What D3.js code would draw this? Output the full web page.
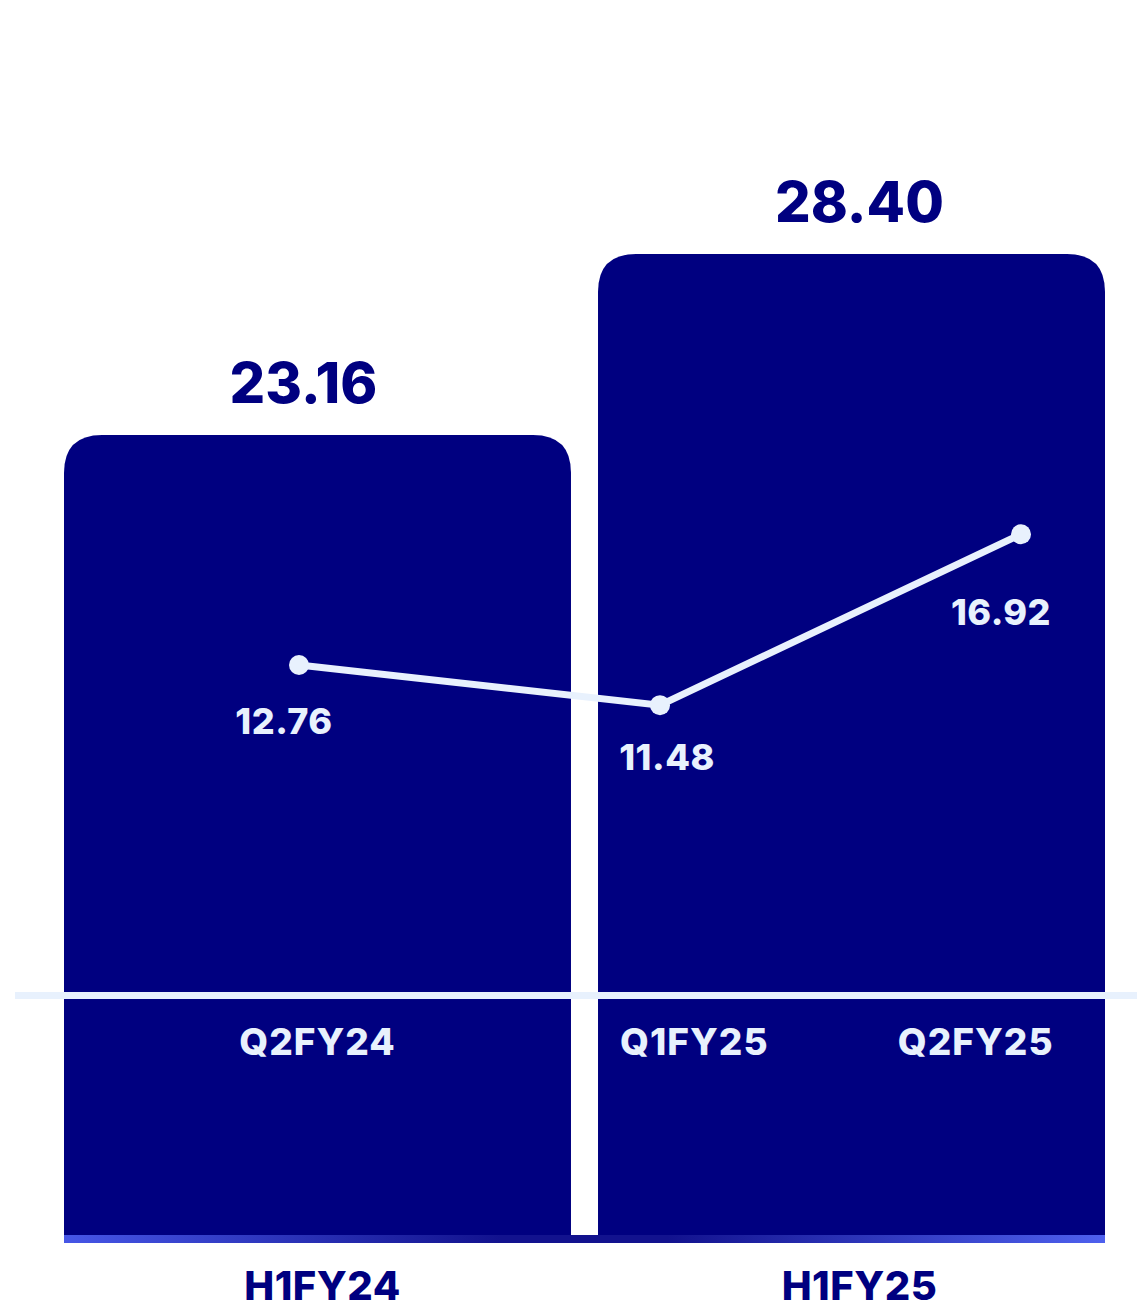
<!DOCTYPE html>
<html>
<head>
<meta charset="utf-8">
<script src="https://cdn.jsdelivr.net/npm/d3@7/dist/d3.min.js"></script>
<style>
  html, body { margin: 0; padding: 0; background: #ffffff; }
  svg { display: block; }
  text { font-family: Inter, "Noto Sans", sans-serif; font-weight: 800; }
</style>
</head>
<body>
<script>
// Half-year totals (bars)
const halves = ["H1FY24", "H1FY25"];
const halfValues = [23.16, 28.40];

// Quarterly values (line)
const quarters = ["Q2FY24", "Q1FY25", "Q2FY25"];
const quarterValues = [12.76, 11.48, 16.92];
const quarterHalf = ["H1FY24", "H1FY25", "H1FY25"];

const W = 1137, H = 1310;
const NAVY = "#000080";
const LIGHT = "#e8f1fd";

const svg = d3.select("body").append("svg")
  .attr("width", W).attr("height", H);

// Scales
const x = d3.scaleBand().domain(halves).range([64, 1105])
  .paddingInner(0.0506).paddingOuter(0);
const yBar = d3.scaleLinear().domain([0, 30]).range([1235, 1235 - 30 * 34.54]);
const xLine = d3.scalePoint().domain(quarters).range([299, 1021]);
const yLine = d3.scaleLinear().domain([0, 20]).range([1066, 1066 - 20 * 31.43]);

const bw = x.bandwidth();
const r = 38;

// Rounded-top bar path
function barPath(x0, y0, w, y1) {
  return `M${x0},${y1} L${x0},${y0 + r} Q${x0},${y0} ${x0 + r},${y0} ` +
         `L${x0 + w - r},${y0} Q${x0 + w},${y0} ${x0 + w},${y0 + r} L${x0 + w},${y1} Z`;
}

svg.append("g").selectAll("path")
  .data(halves)
  .join("path")
  .attr("d", (d, i) => barPath(x(d), yBar(halfValues[i]), bw, yBar(0)))
  .attr("fill", NAVY);

// Base strip under both bars
const defs = svg.append("defs");
const grad = defs.append("linearGradient").attr("id", "baseGrad")
  .attr("x1", "0%").attr("x2", "100%").attr("y1", "0%").attr("y2", "0%");
grad.append("stop").attr("offset", "0%").attr("stop-color", "#4656e6");
grad.append("stop").attr("offset", "42%").attr("stop-color", "#12128e");
grad.append("stop").attr("offset", "58%").attr("stop-color", "#12128e");
grad.append("stop").attr("offset", "100%").attr("stop-color", "#4e60ee");

svg.append("rect")
  .attr("x", x.range()[0]).attr("y", yBar(0))
  .attr("width", x.range()[1] - x.range()[0]).attr("height", 8)
  .attr("fill", "url(#baseGrad)");

// Bar value labels
const barNudge = [-14, 8];
svg.append("g").selectAll("text")
  .data(halves)
  .join("text")
  .attr("x", (d, i) => x(d) + bw / 2 + barNudge[i])
  .attr("y", (d, i) => yBar(halfValues[i]) - 32)
  .attr("text-anchor", "middle")
  .attr("fill", NAVY)
  .attr("font-size", 56)
  .text((d, i) => halfValues[i].toFixed(2));

// Half-year category labels
svg.append("g").selectAll("text")
  .data(halves)
  .join("text")
  .attr("x", (d, i) => x(d) + bw / 2 + [5, 8][i])
  .attr("y", 1300)
  .attr("text-anchor", "middle")
  .attr("fill", NAVY)
  .attr("font-size", 40)
  .attr("letter-spacing", 0.5)
  .text(d => d);

// Quarter baseline rule
svg.append("line")
  .attr("x1", 15).attr("x2", W)
  .attr("y1", 995.5).attr("y2", 995.5)
  .attr("stroke", LIGHT).attr("stroke-width", 7);

// Quarter category labels, placed within their half-year bar
const qPos = [0.5, 0.19, 0.745];
svg.append("g").selectAll("text")
  .data(quarters)
  .join("text")
  .attr("x", (d, i) => x(quarterHalf[i]) + bw * qPos[i])
  .attr("y", 1055)
  .attr("text-anchor", "middle")
  .attr("fill", LIGHT)
  .attr("font-size", 37)
  .attr("letter-spacing", 1)
  .text(d => d);

// Quarterly line
const line = d3.line()
  .x((d, i) => xLine(quarters[i]))
  .y(d => yLine(d));

svg.append("path")
  .datum(quarterValues)
  .attr("d", line)
  .attr("fill", "none")
  .attr("stroke", LIGHT)
  .attr("stroke-width", 7);

svg.append("g").selectAll("circle")
  .data(quarterValues)
  .join("circle")
  .attr("cx", (d, i) => xLine(quarters[i]))
  .attr("cy", d => yLine(d))
  .attr("r", 10)
  .attr("fill", LIGHT);

// Quarterly value labels
const ptNudge = [[-15, 69], [7, 65], [-20, 91]];
svg.append("g").selectAll("text")
  .data(quarterValues)
  .join("text")
  .attr("x", (d, i) => xLine(quarters[i]) + ptNudge[i][0])
  .attr("y", (d, i) => yLine(d) + ptNudge[i][1])
  .attr("text-anchor", "middle")
  .attr("fill", LIGHT)
  .attr("font-size", 36)
  .attr("letter-spacing", 0.5)
  .text(d => d.toFixed(2));
</script>
</body>
</html>
